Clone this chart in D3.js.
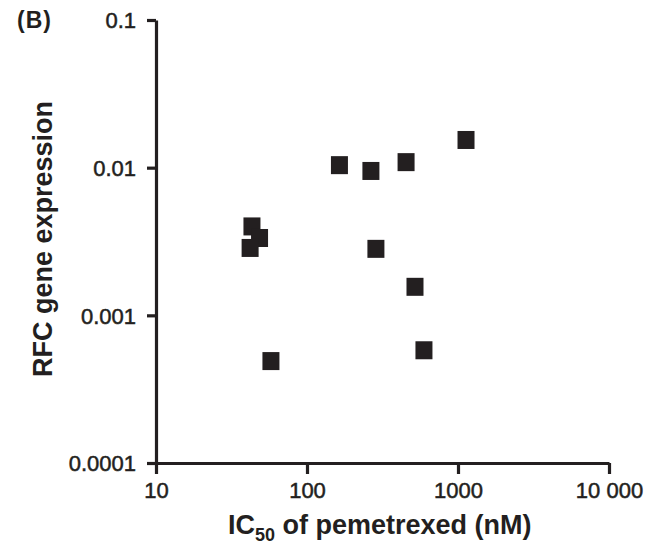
<!DOCTYPE html>
<html>
<head>
<meta charset="utf-8">
<script src="https://cdn.jsdelivr.net/npm/d3@7"></script>
<style>
html,body{margin:0;padding:0;background:#fff;}
svg{display:block;font-family:"Liberation Sans",Arial,Helvetica,sans-serif;}
</style>
</head>
<body>
<svg id="chart" width="656" height="546"></svg>
<script>
// Data
const ic50 = [164, 265, 453, 1130, 43.2, 48.5, 42.0, 286, 519, 57.7, 595];
const rfcExpression = [0.0104, 0.0095, 0.0109, 0.0154, 0.0040, 0.00334, 0.00286, 0.00282, 0.00156, 0.00049, 0.00058];
const xTickValues = [10, 100, 1000, 10000];
const xTickLabels = ["10", "100", "1000", "10 000"];
const yTickValues = [0.0001, 0.001, 0.01, 0.1];
const yTickLabels = ["0.0001", "0.001", "0.01", "0.1"];

const ink = "#231f20";
const svg = d3.select("#chart");

const x = d3.scaleLog().domain([10, 10000]).range([156, 609]);
const y = d3.scaleLog().domain([0.0001, 0.1]).range([463, 20]);

// x axis
const xAxis = d3.axisBottom(x)
  .tickValues(xTickValues)
  .tickFormat((d, i) => xTickLabels[i])
  .tickSizeInner(11).tickSizeOuter(0).tickPadding(8);
const gx = svg.append("g").attr("transform", `translate(0,${y(0.0001)})`).call(xAxis);

// y axis
const yAxis = d3.axisLeft(y)
  .tickValues(yTickValues)
  .tickFormat((d, i) => yTickLabels[i])
  .tickSizeInner(9).tickSizeOuter(0).tickPadding(11);
const gy = svg.append("g").attr("transform", `translate(${x(10)},0)`).call(yAxis);

[gx, gy].forEach(g => {
  g.select(".domain").attr("stroke", ink).attr("stroke-width", 3.2);
  g.selectAll(".tick line").attr("stroke", ink).attr("stroke-width", 3.2);
  g.selectAll(".tick text").attr("fill", ink).attr("stroke", ink).attr("stroke-width", 0.5)
    .style("font-size", "22px")
    .style("font-family", '"Liberation Sans",Arial,sans-serif');
});
gy.selectAll(".tick text").attr("dy", "0.36em");
gx.selectAll(".tick text").attr("dy", "0.74em");

// points
const data = ic50.map((v, i) => ({x: v, y: rfcExpression[i]}));
const w = 17, h = 18;
svg.append("g").selectAll("rect").data(data).join("rect")
  .attr("x", d => x(d.x) - w / 2)
  .attr("y", d => y(d.y) - h / 2)
  .attr("width", w).attr("height", h)
  .attr("fill", ink);

// x title
const xt = svg.append("text")
  .attr("x", 228).attr("y", 534)
  .attr("fill", ink)
  .style("font-size", "27px").style("font-weight", "bold");
xt.append("tspan").text("IC");
xt.append("tspan").attr("dy", 7).style("font-size", "18px").text("50");
xt.append("tspan").attr("dy", -7).text(" of pemetrexed (nM)");

// y title
svg.append("text")
  .attr("transform", "translate(52,239) rotate(-90)")
  .attr("text-anchor", "middle")
  .attr("fill", ink)
  .style("font-size", "27px").style("font-weight", "bold")
  .text("RFC gene expression");

// panel label
svg.append("text")
  .attr("x", 17).attr("y", 28)
  .attr("fill", ink)
  .style("font-size", "23px").style("font-weight", "bold").style("letter-spacing", "1px")
  .text("(B)");
</script>
</body>
</html>
